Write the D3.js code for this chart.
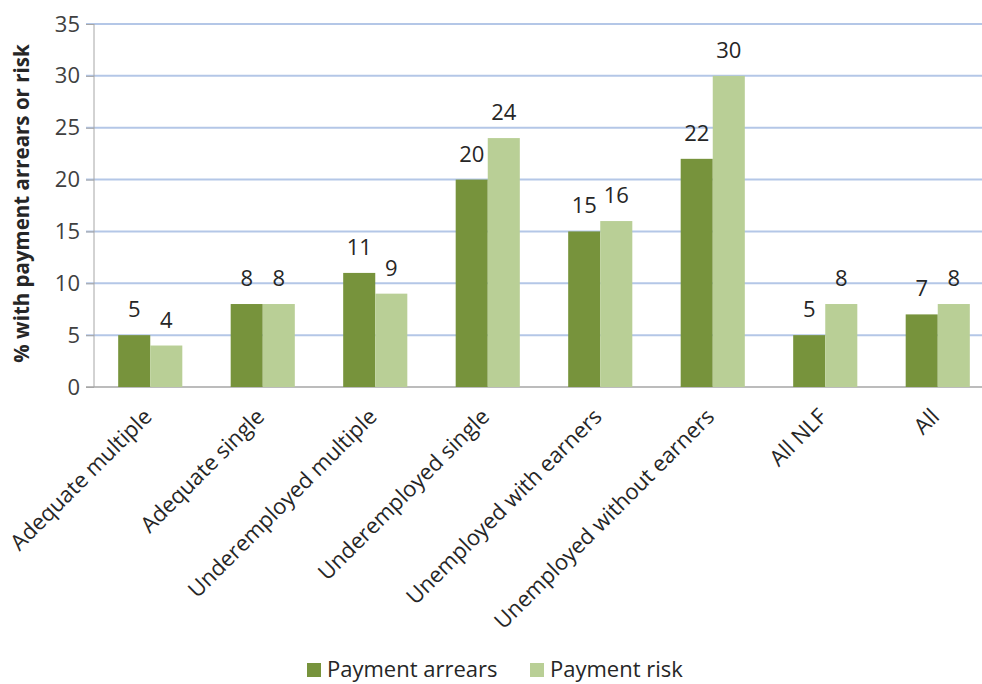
<!DOCTYPE html>
<html>
<head>
<meta charset="utf-8">
<script src="https://cdn.jsdelivr.net/npm/d3@7/dist/d3.min.js"></script>
<style>
  html, body { margin: 0; padding: 0; background: #fff; overflow: hidden; }
  svg { display: block; font-family: "Open Sans", "Noto Sans", "Liberation Sans", sans-serif; }
</style>
</head>
<body>
<svg id="chart" width="982" height="684"></svg>
<script>
const categories = [
  "Adequate multiple", "Adequate single", "Underemployed multiple",
  "Underemployed single", "Unemployed with earners", "Unemployed without earners",
  "All NLF", "All"
];
const seriesNames = ["Payment arrears", "Payment risk"];
const paymentArrears = [5, 8, 11, 20, 15, 22, 5, 7];
const paymentRisk = [4, 8, 9, 24, 16, 30, 8, 8];
const yTicks = [0, 5, 10, 15, 20, 25, 30, 35];
const colors = ["#77933c", "#b9cf96"];

(function draw() {
  const svg = d3.select("#chart");
  const plotLeft = 94, plotRight = 994, plotTop = 24, plotBottom = 387;
  const fontSize = 22;

  const x = d3.scaleBand().domain(categories).range([plotLeft, plotRight]).padding(0);
  const y = d3.scaleLinear().domain([0, 35]).range([plotBottom, plotTop]);
  const barW = x.bandwidth() * 0.285;

  // gridlines
  svg.append("g").selectAll("line").data(yTicks.filter(d => d > 0)).join("line")
    .attr("x1", plotLeft - 8).attr("x2", 982)
    .attr("y1", d => y(d)).attr("y2", d => y(d))
    .attr("stroke", "#b4c7e7").attr("stroke-width", 2);

  // y axis
  const yAxis = svg.append("g").attr("transform", `translate(${plotLeft},0)`)
    .call(d3.axisLeft(y).tickValues(yTicks).tickSize(8).tickPadding(6));
  yAxis.select(".domain").attr("stroke", "#a6a6a6").attr("d", `M0,${plotTop}V${plotBottom}`);
  yAxis.selectAll(".tick line").attr("stroke", "#a6a6a6");
  yAxis.selectAll(".tick text").attr("font-size", fontSize).attr("fill", "#404040")
    .attr("font-family", "'Open Sans', sans-serif");

  // x axis baseline
  svg.append("line").attr("x1", plotLeft - 8).attr("x2", 982)
    .attr("y1", plotBottom).attr("y2", plotBottom)
    .attr("stroke", "#a6a6a6").attr("stroke-width", 1.5);

  const series = [paymentArrears, paymentRisk];
  series.forEach((vals, si) => {
    const g = svg.append("g");
    g.selectAll("rect").data(categories).join("rect")
      .attr("x", (c) => x(c) + x.bandwidth() / 2 - barW + si * barW)
      .attr("width", barW)
      .attr("y", (c, i) => y(vals[i]))
      .attr("height", (c, i) => plotBottom - y(vals[i]))
      .attr("fill", colors[si]);
    g.selectAll("text").data(categories).join("text")
      .attr("x", (c) => x(c) + x.bandwidth() / 2 - barW / 2 + si * barW)
      .attr("y", (c, i) => y(vals[i]) - 18)
      .attr("text-anchor", "middle")
      .attr("font-size", fontSize).attr("fill", "#262626")
      .text((c, i) => vals[i]);
  });

  // category labels
  svg.append("g").selectAll("text").data(categories).join("text")
    .attr("transform", c => `translate(${x(c) + x.bandwidth() / 2 + 3},${plotBottom + 31}) rotate(-45)`)
    .attr("text-anchor", "end")
    .attr("font-size", fontSize).attr("fill", "#262626")
    .text(c => c);

  // y axis title
  svg.append("text")
    .attr("transform", `translate(29,${(plotTop + plotBottom) / 2 - 2}) rotate(-90)`)
    .attr("text-anchor", "middle")
    .attr("font-size", 20.5).attr("font-weight", "bold").attr("fill", "#262626")
    .text("% with payment arrears or risk");

  // legend
  const legend = svg.append("g");
  const legendX = [307, 530];
  seriesNames.forEach((name, i) => {
    legend.append("rect").attr("x", legendX[i]).attr("y", 663).attr("width", 14).attr("height", 14)
      .attr("fill", colors[i]);
    legend.append("text").attr("x", legendX[i] + 20).attr("y", 677)
      .attr("font-size", fontSize).attr("fill", "#262626").text(name);
  });
})();
</script>
</body>
</html>
